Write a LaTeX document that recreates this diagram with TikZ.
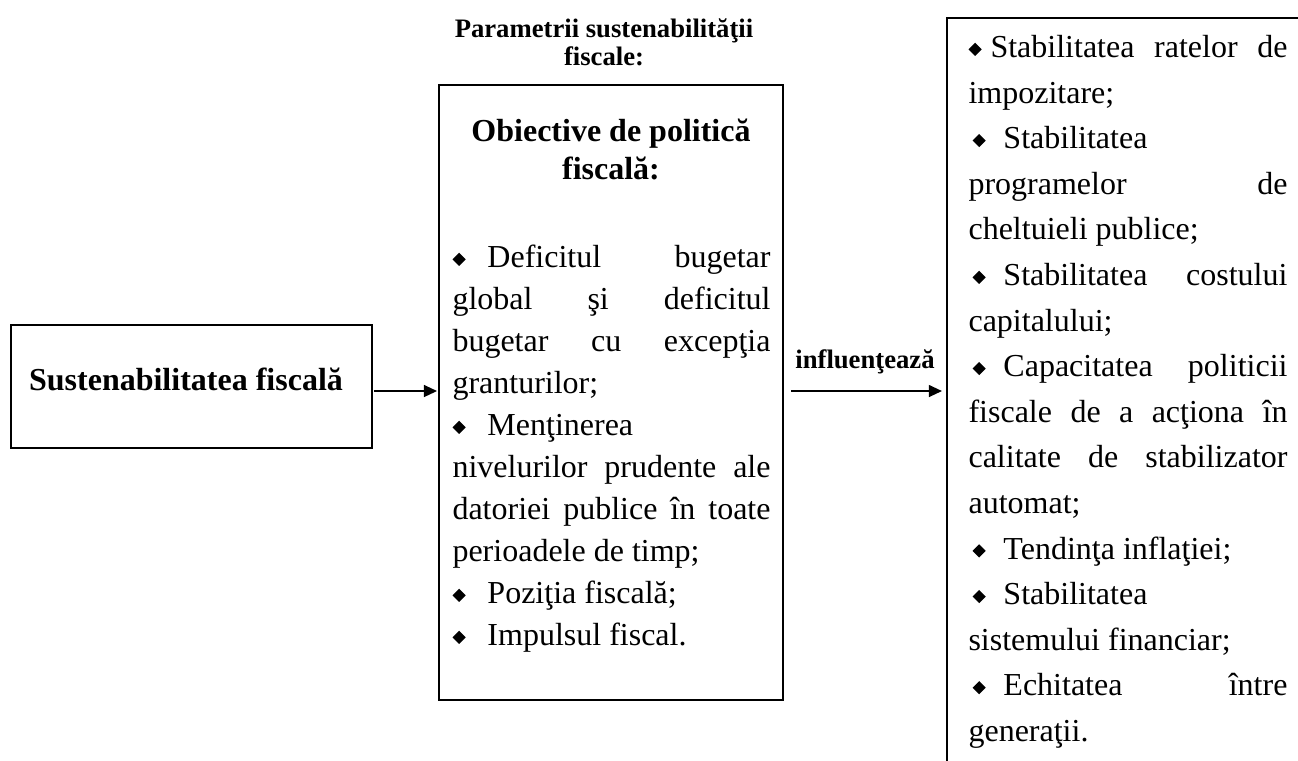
\documentclass[tikz,border=0pt]{standalone}
\usepackage{fontspec}
\usepackage{graphicx}
\setmainfont{Liberation Serif}
\usetikzlibrary{arrows.meta,fit}
\tolerance=10000 \pretolerance=-1 \hyphenpenalty=10000 \exhyphenpenalty=10000 \hbadness=10000
\newcommand{\dmd}{\raisebox{0.6pt}{\rotatebox{45}{\rule{3.5pt}{3.5pt}}}}
\newcommand{\bl}[1][13.1pt]{\makebox[#1][l]{\dmd}}
\newcommand{\blr}{\makebox[13.1pt][l]{\hspace{1.5pt}\dmd}}
\newcommand{\st}{\rule{0pt}{10pt}}
\begin{document}
\begin{tikzpicture}[x=0.375pt,y=-0.375pt,
  box/.style={draw,line width=0.7pt,inner sep=0pt,outer sep=0pt},
  conn/.style={line width=0.5pt,-{Triangle[length=4.9pt,width=4.5pt]}},
  ttlsmall/.style={inner sep=0pt,align=center,font=\bfseries\fontsize{10}{10.5}\selectfont},
  ttlbig/.style={inner sep=0pt,align=center,font=\bfseries\fontsize{12}{14.25}\selectfont},
  midtxt/.style={inner sep=0pt,anchor=north west,align=justify,text width=119.25pt,font=\fontsize{12}{15.75}\selectfont},
  rtxt/.style={inner sep=0pt,anchor=north west,align=justify,text width=119.6pt,font=\fontsize{12}{17.1}\selectfont}]
\useasboundingbox (0,0) rectangle (1298,760);
\clip (0,0) rectangle (1298,760);
\node[box, fit={(11,325) (372,448)}] (lb) {};
\node[box, fit={(439,85) (783,700)}] (mb) {};
\node[box, fit={(947,18) (1330,800)}] (rb) {};
\node[ttlsmall, anchor=north] (par) at (604,10.3) {\st Parametrii sustenabilităţii\\fiscale:};
\node[ttlbig, anchor=north] (obj) at (611,114.3) {\st Obiective de politică\\fiscală:};
\node[ttlbig, anchor=base] (lbt) at (186,390) {Sustenabilitatea fiscală};
\node[ttlsmall, anchor=base] (inf) at (865,368) {influenţează};
\node[midtxt] (mtx) at (452,240.3) {\st\bl Deficitul bugetar\break global şi deficitul\break bugetar cu excepţia\break granturilor;\par
\bl Menţinerea\hfil\break nivelurilor prudente ale\break datoriei publice în toate\break perioadele de timp;\par
\bl Poziţia fiscală;\par
\bl Impulsul fiscal.};
\node[rtxt] (rtx) at (968,30.3) {\st\bl[8.25pt]Stabilitatea ratelor de\break impozitare;\par
\blr Stabilitatea\hfil\break programelor de\break cheltuieli publice;\par
\blr Stabilitatea costului\break capitalului;\par
\blr Capacitatea politicii\break fiscale de a acţiona în\break calitate de stabilizator\break automat;\par
\blr Tendinţa inflaţiei;\par
\blr Stabilitatea\hfil\break sistemului financiar;\par
\blr Echitatea între\break generaţii.};
\coordinate (ay) at (0,391);
\draw[conn, shorten <=0.75pt, shorten >=0.75pt] (lb.east |- ay) -- (mb.west |- ay);
\draw[conn, shorten <=3pt, shorten >=1.9pt] (mb.east |- ay) -- (rb.west |- ay);
\end{tikzpicture}
\end{document}
